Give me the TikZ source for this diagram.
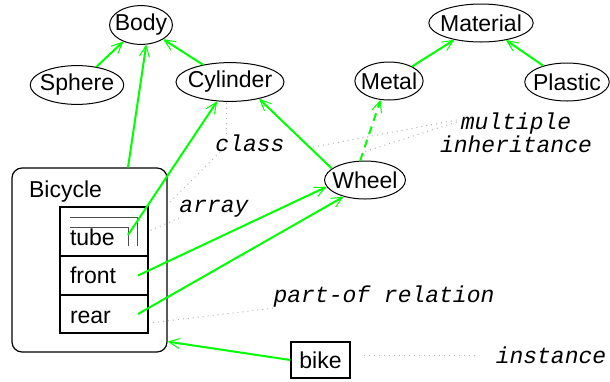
\documentclass[tikz,border=0pt]{standalone}
\usepackage{fontspec}
\setmainfont{Liberation Sans}
\setmonofont{Liberation Mono}
\usepackage{tikz}
\usetikzlibrary{arrows.meta,positioning,shapes.geometric}

\begin{document}
\begin{tikzpicture}[x=0.5pt,y=-0.5pt,>={Straight Barb[length=5.5pt,width=5pt,line width=0.5pt]},
  font=\fontsize{11.5}{13}\selectfont,
  main node/.style={ellipse,draw,line width=0.5pt,inner xsep=-2pt,inner ysep=1.5pt,minimum height=19pt},
  row/.style={rectangle,draw,line width=0.6pt,inner xsep=5pt,inner ysep=0pt,outer sep=0pt,text width=34pt,align=left},
  note/.style={font=\ttfamily\itshape\fontsize{11.5}{10}\selectfont,inner sep=0pt},
  link/.style={->,green,line width=1pt},
  pointer/.style={draw=black!30,dotted,line width=0.5pt}]

  \useasboundingbox (0,0) rectangle (610,381);

  \node[main node] (1) at (141,25) {Body};
  \node[main node] (2) at (77,85) {Sphere};
  \node[main node] (3) at (230,82) {Cylinder};
  \node[main node] (4) at (481,23) {Material};
  \node[main node] (5) at (389,81) {Metal};
  \node[main node] (6) at (567,82) {Plastic};
  \node[main node] (7) at (365,180) {Wheel};

  % the class box with its three fields
  \node[draw,rounded corners=5pt,line width=0.6pt,minimum width=77.5pt,minimum height=92pt] (8) at (89.5,260) {};
  \node[anchor=base west] (9) at (22,197) {Bicycle};
  \node[row,anchor=north west,text height=19pt,text depth=5.5pt] (10) at (60,207) {tube};
  \node[row,below=0pt of 10,text height=13.5pt,text depth=6pt] (11) {front};
  \node[row,below=0pt of 11,text height=14pt,text depth=5pt] (12) {rear};
  \draw[black!70,line width=0.5pt] ([shift={(10,10)}]10.north west) -| ([shift={(77,39)}]10.north west);
  \draw[black!70,line width=0.5pt] ([shift={(10,20)}]10.north west) -| ([shift={(68,39)}]10.north west);

  \node[draw,line width=0.6pt,minimum width=29.5pt,minimum height=18pt] (13) at (320.5,360) {bike};

  \node[note] (14) at (250,143) {class};
  \node[note] (15) at (214,209) {array};
  \node[note,align=center] (16) at (516,133) {multiple\\inheritance};
  \node[note] (17) at (384,297) {part-of relation};
  \node[note] (18) at (551,355) {instance};

  \path[link]
    (2) edge (1)
    (3) edge (1)
    ([shift={(38.5,0)}]8.north) edge (1.-75)
    ([shift={(-20,3.5)}]10.east) edge (3)
    (5) edge (4)
    (6) edge (4)
    ([shift={(-10,0)}]11.east) edge (7.190)
    ([shift={(-10,0)}]12.east) edge (7.218)
    (13.west) edge ([shift={(0,-11)}]8.south east);
  \draw[link] (7.161) -- coordinate[pos=0.3] (19) (3.-30);
  \draw[link,dash pattern=on 4pt off 3pt] (7.104) -- coordinate[pos=0.14] (20) (5.-114);

  % dotted pointers from the notes
  \draw[pointer] ([shift={(-24,0)}]14.north) -- ([shift={(-4,0)}]3.south);
  \draw[pointer] ([shift={(5,0)}]14.south west) -- ([shift={(0,37)}]8.north east);
  \draw[pointer] (15.south west) -- (10.east);
  \draw[pointer] ([shift={(17,-13)}]16.west) -- (19);
  \draw[pointer] ([shift={(17,-11)}]16.west) -- (20);
  \draw[pointer] (17.south west) -- ([shift={(2,9)}]12.east);
  \draw[pointer] ([shift={(-20,0)}]18.west) -- ([shift={(10,-5)}]13.east);

\end{tikzpicture}
\end{document}
